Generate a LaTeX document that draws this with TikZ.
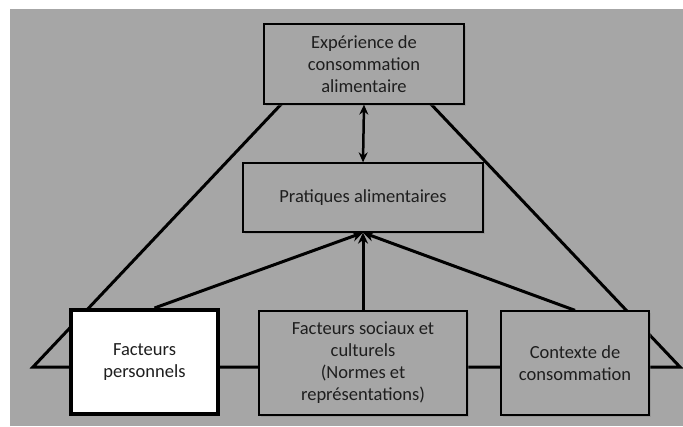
\documentclass[tikz,border=0pt]{standalone}
\usepackage{fontspec}
\setmainfont{Carlito}
\usetikzlibrary{arrows.meta,shadows,calc}
\definecolor{bg}{HTML}{A6A6A6}
\definecolor{txt}{HTML}{1E1E1E}
\tikzset{
  box/.style={draw=black, line width=1.3pt, fill=bg, align=center, text=txt,
    font=\fontsize{18.5}{22}\selectfont, inner sep=0pt,
    drop shadow={opacity=0.35, shadow xshift=1.5pt, shadow yshift=-1.5pt}},
  whitebox/.style={box, fill=white, line width=4pt},
  edge/.style={line width=3pt},
  arr/.style={line width=3pt, -{Stealth[length=11pt,width=10pt]}},
  darr/.style={line width=2.5pt, {Stealth[length=10pt,width=9pt]}-{Stealth[length=10pt,width=9pt]}}
}
\begin{document}
\begin{tikzpicture}[x=1pt,y=-1pt]
\useasboundingbox (0,0) rectangle (683,426);
\fill[white] (0,0) rectangle (683,426);
\fill[bg] (10,9) rectangle (683,426);
% triangle
\coordinate (apex) at (356,25);
\coordinate (tl) at (33,367);
\coordinate (tr) at (680,367);
\draw[edge, line join=miter] (apex) -- (tl) -- (tr) -- cycle;
% boxes
\node[box, minimum width=200pt, minimum height=80pt] (exp) at (364,64) {Expérience de\\consommation\\alimentaire};
\node[box, minimum width=240pt, minimum height=69pt] (prat) at (363,197.5) {Pratiques alimentaires};
\node[whitebox, minimum width=147pt, minimum height=104pt] (fp) at (144.5,362) {Facteurs\\personnels};
\node[box, minimum width=208pt, minimum height=104pt] (fs) at (363,363) {Facteurs sociaux et\\culturels\\(Normes et\\représentations)};
\node[box, minimum width=148pt, minimum height=104pt] (ctx) at (575,363) {Contexte de\\consommation};
% arrows
\draw[darr] (exp.south) -- (prat.north);
\draw[arr] ($(fp.north)+(10,0)$) -- (prat.south);
\draw[arr] (fs.north) -- (prat.south);
\draw[arr] (ctx.north) -- (prat.south);
\end{tikzpicture}
\end{document}
